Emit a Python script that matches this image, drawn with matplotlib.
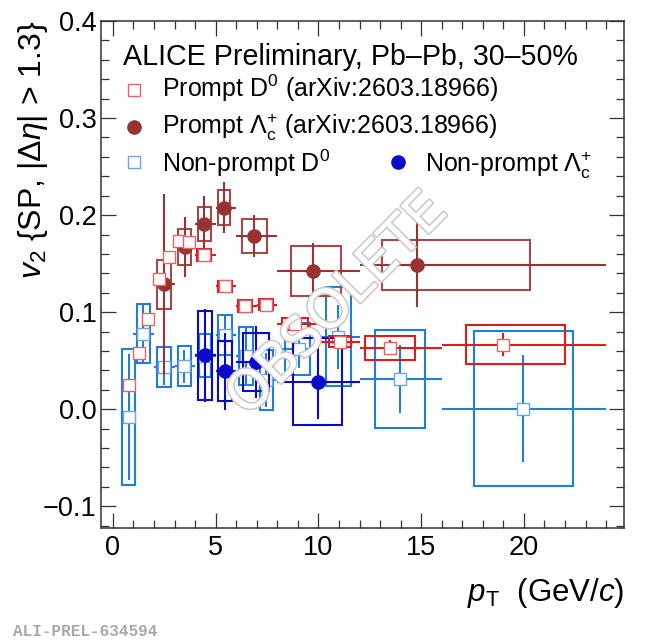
import matplotlib
matplotlib.use('Agg')
import matplotlib.pyplot as plt
import matplotlib.patheffects as pe
from matplotlib.patches import Rectangle
from matplotlib.ticker import MultipleLocator

plt.rcParams['font.family'] = ['Liberation Sans', 'DejaVu Sans']
plt.rcParams['mathtext.fontset'] = 'custom'
plt.rcParams['mathtext.rm'] = 'Liberation Sans'
plt.rcParams['mathtext.it'] = 'Liberation Sans:italic'
plt.rcParams['mathtext.bf'] = 'Liberation Sans:bold'

# prompt D0 (arXiv:2603.18966)
d0_pt = [0.76, 1.25, 1.72, 2.25, 2.73, 3.21, 3.68, 4.41, 5.45, 6.42, 7.43, 8.86, 11.05, 13.48, 19.0]
d0_v2 = [0.0253, 0.0579, 0.0932, 0.1338, 0.1566, 0.1733, 0.172, 0.1592, 0.1266, 0.1066, 0.1077, 0.0878, 0.0696, 0.0634, 0.0665]
d0_lo = [0.5, 1, 1.5, 2, 2.5, 3, 3.5, 4, 5, 6, 7, 8, 10, 12, 16]
d0_hi = [1, 1.5, 2, 2.5, 3, 3.5, 4, 5, 6, 7, 8, 10, 12, 16, 24]
d0_stat = [0.004, 0.004, 0.004, 0.005, 0.005, 0.005, 0.005, 0.004, 0.004, 0.004, 0.004, 0.005, 0.006, 0.008, 0.012]
d0_syst = [0.003, 0.003, 0.002, 0.002, 0.002, 0.002, 0.002, 0.006, 0.006, 0.006, 0.006, 0.006, 0.0055, 0.0124, 0.02]
d0_box_x = [0.76, 1.25, 1.72, 2.25, 2.73, 3.21, 3.68, 4.41, 5.45, 6.42, 7.43, 8.86, 11.05, 13.48, 19.6]
d0_box_w = [0.15, 0.16, 0.19, 0.2, 0.2, 0.2, 0.2, 0.34, 0.34, 0.34, 0.34, 0.65, 0.55, 1.22, 2.4]

# prompt Lambda_c (arXiv:2603.18966)
lc_pt = [2.48, 3.5, 4.45, 5.42, 6.85, 9.72, 14.78]
lc_v2 = [0.1287, 0.1668, 0.1905, 0.2076, 0.1785, 0.1424, 0.1486]
lc_lo = [2, 3, 4, 5, 6, 8, 12]
lc_hi = [3, 4, 5, 6, 8, 12, 24]
lc_stat = [0.093, 0.031, 0.029, 0.026, 0.022, 0.0287, 0.043]
lc_syst = [0.025, 0.0185, 0.0177, 0.018, 0.0177, 0.0254, 0.0255]
lc_box_x = [2.48, 3.5, 4.45, 5.42, 6.9, 9.87, 16.68]
lc_box_w = [0.33, 0.32, 0.3, 0.3, 0.6, 1.22, 3.6]

# non-prompt D0
npd0_pt = [0.76, 1.48, 2.48, 3.47, 4.48, 5.46, 6.47, 7.47, 9.05, 10.96, 13.97, 19.97]
npd0_v2 = [-0.0077, 0.0777, 0.0432, 0.0445, 0.055, 0.0765, 0.055, 0.03, 0.062, 0.0747, 0.0308, 0.0005]
npd0_lo = [0.5, 1, 2, 3, 4, 5, 6, 7, 8, 10, 12, 16]
npd0_hi = [1, 2, 3, 4, 5, 6, 7, 8, 10, 12, 16, 24]
npd0_stat = [0.065, 0.03, 0.018, 0.017, 0.02, 0.02, 0.03, 0.028, 0.02, 0.033, 0.035, 0.055]
npd0_syst = [0.07, 0.0305, 0.0206, 0.021, 0.022, 0.021, 0.03, 0.031, 0.027, 0.051, 0.0503, 0.08]
npd0_box_x = [0.745, 1.49, 2.48, 3.47, 4.48, 5.46, 6.47, 7.47, 8.98, 10.97, 13.97, 19.97]
npd0_box_w = [0.31, 0.31, 0.33, 0.31, 0.31, 0.33, 0.33, 0.33, 0.61, 0.62, 1.22, 2.4]

# non-prompt Lambda_c
nplc_pt = [4.48, 5.46, 6.94, 9.99]
nplc_v2 = [0.0556, 0.039, 0.049, 0.0283]
nplc_lo = [4, 5, 6, 8]
nplc_hi = [5, 6, 8, 12]
nplc_stat = [0.048, 0.04, 0.037, 0.038]
nplc_syst = [0.046, 0.031, 0.030, 0.045]
nplc_box_x = [4.48, 5.46, 6.96, 9.97]
nplc_box_w = [0.32, 0.33, 0.62, 1.2]

RED = '#dd1c1c'
RED_LIGHT = '#e86464'
BROWN = '#993333'
BROWN_BOX = '#a54848'
LBLUE = '#1f7ddb'
LBLUE_LIGHT = '#6aa6e8'
DBLUE = '#0a0acc'


def draw_series(ax, pt, v2, lo, hi, stat, syst, box_x, box_w, color, box_color,
                marker, mfc, mec, ms, z):
    for y, s, bx, bw in zip(v2, syst, box_x, box_w):
        ax.add_patch(Rectangle((bx - bw, y - s), 2 * bw, 2 * s, fill=False,
                               ec=box_color, lw=1.5, zorder=z))
    xerr = [[p - l for p, l in zip(pt, lo)], [h - p for p, h in zip(pt, hi)]]
    ax.errorbar(pt, v2, xerr=xerr, yerr=stat, fmt='none', ecolor=color,
                elinewidth=1.5, capsize=0, zorder=z + 0.1)
    ax.plot(pt, v2, ls='none', marker=marker, mfc=mfc, mec=mec, ms=ms,
            mew=1.0, zorder=z + 0.2)


fig = plt.figure(figsize=(6.5, 6.42), dpi=100)
ax = fig.add_axes([0.1554, 0.1776, 0.8046, 0.7897])

draw_series(ax, npd0_pt, npd0_v2, npd0_lo, npd0_hi, npd0_stat, npd0_syst,
            npd0_box_x, npd0_box_w, LBLUE, LBLUE, 's', 'white', LBLUE_LIGHT, 9, 2)
draw_series(ax, nplc_pt, nplc_v2, nplc_lo, nplc_hi, nplc_stat, nplc_syst,
            nplc_box_x, nplc_box_w, DBLUE, DBLUE, 'o', DBLUE, DBLUE, 9.5, 3)
draw_series(ax, lc_pt, lc_v2, lc_lo, lc_hi, lc_stat, lc_syst,
            lc_box_x, lc_box_w, BROWN, BROWN_BOX, 'o', BROWN, BROWN, 9.5, 4)
draw_series(ax, d0_pt, d0_v2, d0_lo, d0_hi, d0_stat, d0_syst,
            d0_box_x, d0_box_w, RED, RED, 's', 'white', RED_LIGHT, 9, 5)

ax.set_xlim(-0.58, 24.87)
ax.set_ylim(-0.1224, 0.4)
ax.xaxis.set_major_locator(MultipleLocator(5))
ax.xaxis.set_minor_locator(MultipleLocator(1))
ax.yaxis.set_major_locator(MultipleLocator(0.1))
ax.yaxis.set_minor_locator(MultipleLocator(0.02))
ax.tick_params(which='both', direction='in', top=True, right=True,
               width=0.9, color='#333333', labelsize=19.5)
ax.tick_params(which='major', length=11)
ax.tick_params(which='minor', length=5.5)
ax.tick_params(axis='y', pad=3)
ax.tick_params(axis='x', pad=5)
ax.set_yticks([-0.1, 0, 0.1, 0.2, 0.3, 0.4])
ax.set_yticklabels(['\u22120.1', '0.0', '0.1', '0.2', '0.3', '0.4'])
for sp in ax.spines.values():
    sp.set_linewidth(1.1)
    sp.set_color('#333333')

ax.set_ylabel(r'$v_{2}$ {SP, $|\Delta\eta|$ > 1.3}', fontsize=23, loc='top')
ax.yaxis.set_label_coords(-0.098, 1.0)
ax.set_xlabel(r'$p_{\rm T}$  (GeV/$c$)', fontsize=22.5, loc='right')
ax.xaxis.set_label_coords(1.0, -0.095)

# legend
tr = ax.transAxes
ax.text(0.042, 0.913, 'ALICE Preliminary, Pb\u2013Pb, 30\u201350%', transform=tr,
        fontsize=20.6, va='baseline')
ax.plot([0.063], [0.864], transform=tr, marker='s', ms=8, mfc='white', mec=RED_LIGHT,
        mew=1.0, clip_on=False)
ax.text(0.1166, 0.8495, r'Prompt D$^{0}$ (arXiv:2603.18966)', transform=tr,
        fontsize=18, va='baseline')
ax.plot([0.063], [0.791], transform=tr, marker='o', ms=9.5, color=BROWN, clip_on=False)
ax.text(0.1166, 0.777, r'Prompt $\Lambda_{\rm c}^{+}$ (arXiv:2603.18966)', transform=tr,
        fontsize=18, va='baseline')
ax.plot([0.063], [0.7225], transform=tr, marker='s', ms=8, mfc='white', mec=LBLUE_LIGHT,
        mew=1.0, clip_on=False)
ax.text(0.1166, 0.703, r'Non-prompt D$^{0}$', transform=tr, fontsize=18, va='baseline')
ax.plot([0.567], [0.7225], transform=tr, marker='o', ms=9.5, color=DBLUE, clip_on=False)
ax.text(0.6195, 0.703, r'Non-prompt $\Lambda_{\rm c}^{+}$', transform=tr, fontsize=18,
        va='baseline')

fig.text(0.519, 0.525, 'OBSOLETE', rotation=45.4, ha='center', va='center',
         rotation_mode='anchor', fontsize=39, color='white', family='DejaVu Sans',
         path_effects=[pe.withStroke(linewidth=2.2, foreground='#c8c8c8')], zorder=10)

fig.text(0.02, 0.01, 'ALI-PREL-634594', fontsize=11.5, color='#a8a8a8',
         family='Liberation Mono', weight='bold', va='baseline')

fig.savefig('out.png', dpi=100)
